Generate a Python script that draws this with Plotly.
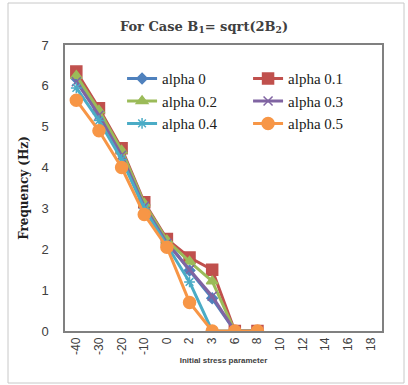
import plotly.graph_objects as go

categories = ["-40", "-30", "-20", "-10", "0", "2", "3", "6", "8", "10", "12", "14", "16", "18"]
series_names = ["alpha 0", "alpha 0.1", "alpha 0.2", "alpha 0.3", "alpha 0.4", "alpha 0.5"]
alpha_0 = [6.18, 5.35, 4.38, 3.1, 2.2, 1.48, 0.8, 0, 0, None, None, None, None, None]
alpha_01 = [6.35, 5.45, 4.47, 3.15, 2.25, 1.8, 1.5, 0, 0, None, None, None, None, None]
alpha_02 = [6.25, 5.4, 4.42, 3.12, 2.22, 1.7, 1.22, 0, 0, None, None, None, None, None]
alpha_03 = [6.1, 5.28, 4.3, 3.05, 2.15, 1.5, 0.85, 0, 0, None, None, None, None, None]
alpha_04 = [5.95, 5.15, 4.2, 3.0, 2.1, 1.2, 0, 0, 0, None, None, None, None, None]
alpha_05 = [5.65, 4.9, 4.0, 2.85, 2.05, 0.7, 0, 0, 0, None, None, None, None, None]
y_ticks = [0, 1, 2, 3, 4, 5, 6, 7]

values = [alpha_0, alpha_01, alpha_02, alpha_03, alpha_04, alpha_05]
colors = ["#4F81BD", "#C0504D", "#9BBB59", "#8064A2", "#4BACC6", "#F79646"]
symbols = ["diamond", "square", "triangle-up", "x-thin-open", "asterisk-open", "circle"]
sizes = [8, 11, 10, 9, 9, 12]

fig = go.Figure()
for name, ys, c, s, sz in zip(series_names, values, colors, symbols, sizes):
    fig.add_trace(go.Scatter(
        x=categories, y=ys, name=name, mode="lines+markers",
        line=dict(color=c, width=3),
        marker=dict(symbol=s, size=sz, color=c, line=dict(color=c, width=1.5)),
    ))

fig.update_layout(
    width=408, height=385,
    margin=dict(l=65, r=26, t=45, b=54),
    paper_bgcolor="white", plot_bgcolor="white",
    title=dict(text="<b>For Case B<sub>1</sub>= sqrt(2B<sub>2</sub>)</b>", x=0.5, xanchor="center",
               y=1 - 26 / 385, yanchor="middle",
               font=dict(family="DejaVu Serif", size=13, color="#404040")),
    showlegend=True,
    legend=dict(orientation="h", x=0.18, y=0.94, xanchor="left", yanchor="top",
                entrywidth=81, entrywidthmode="pixels", tracegroupgap=0,
                bgcolor="rgba(0,0,0,0)",
                font=dict(family="Liberation Serif", size=15, color="#202020")),
    xaxis=dict(type="category", categoryorder="array", categoryarray=categories,
               range=[-0.5, len(categories) - 0.5],
               showgrid=False, showline=True, linecolor="#808080", linewidth=1.5, mirror=True,
               ticks="", tickangle=-90, zeroline=False,
               tickfont=dict(family="Liberation Sans", size=12, color="#404040"),
               title=dict(text="<b>Initial stress parameter</b>", standoff=4,
                          font=dict(family="Liberation Sans", size=8, color="#404040"))),
    yaxis=dict(range=[0, 7], tickvals=y_ticks, showgrid=False, zeroline=False,
               showline=True, linecolor="#808080", linewidth=1.5, mirror=True, ticks="",
               ticklabelstandoff=12,
               tickfont=dict(family="Liberation Sans", size=13, color="#404040"),
               title=dict(text="<b>Frequency (Hz)</b>", standoff=10,
                          font=dict(family="DejaVu Serif", size=12, color="#202020"))),
    shapes=[dict(type="rect", xref="paper", yref="paper",
                 x0=(8 - 65) / 317, x1=(404 - 65) / 317,
                 y0=-(383 - 331) / 286, y1=1 + (45 - 3) / 286,
                 line=dict(color="#C8C8C8", width=1), layer="below")],
)

fig.write_html("out.html")
